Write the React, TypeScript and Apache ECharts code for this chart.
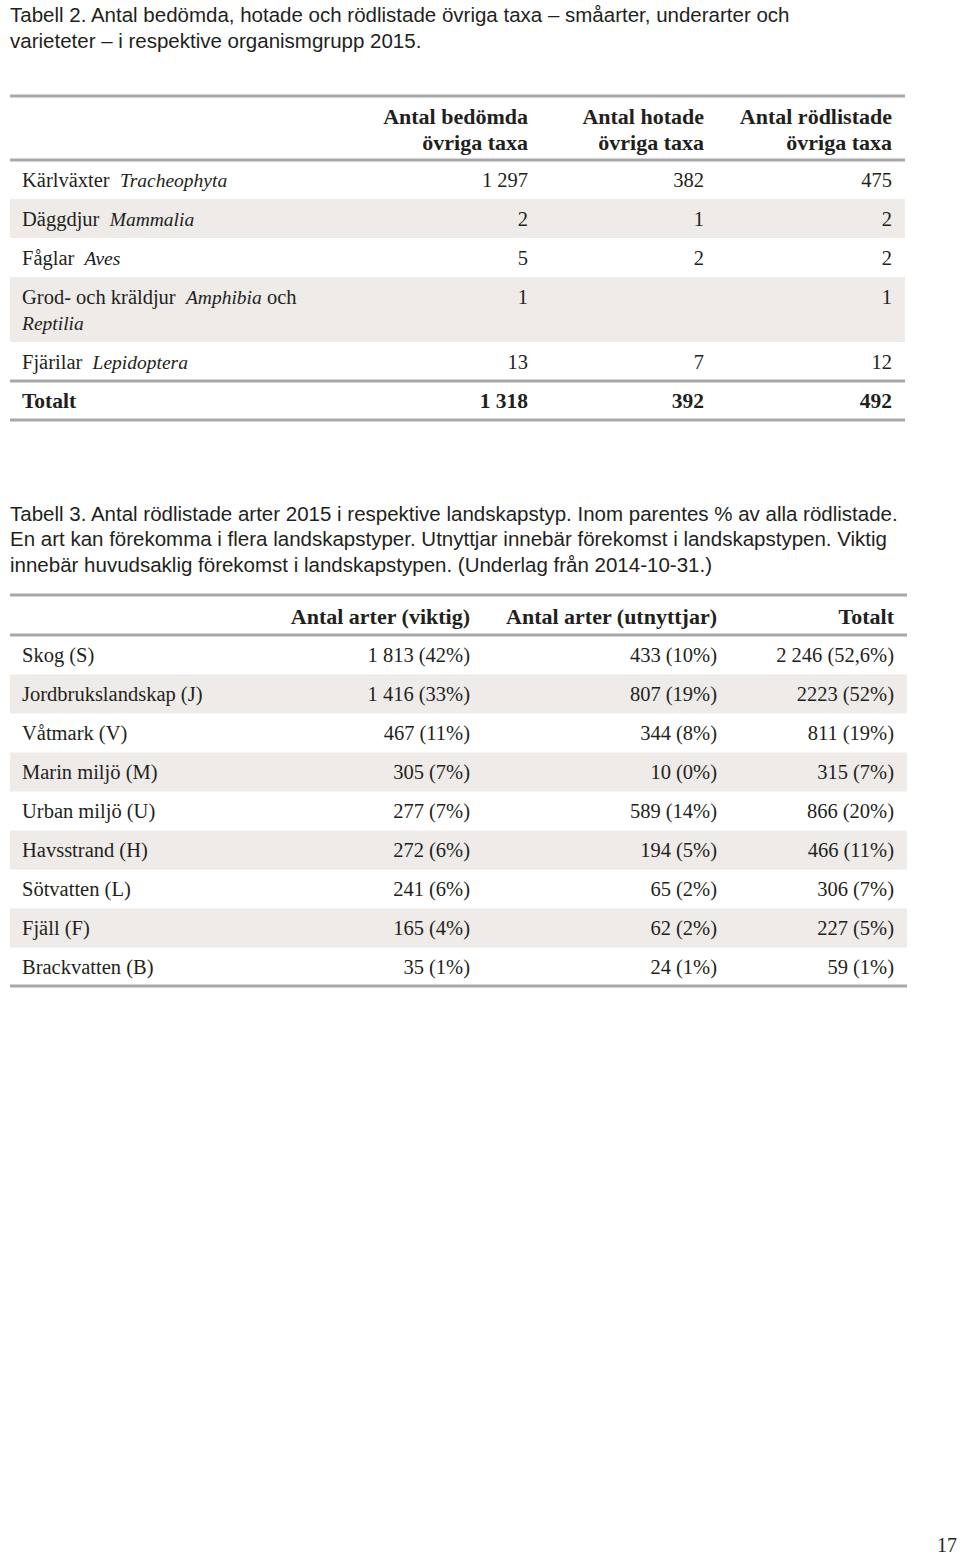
import React, { useEffect, useRef } from "react";
import * as echarts from "echarts";

// ---------- Data ----------
const title2Lines = [
  "Tabell 2. Antal bedömda, hotade och rödlistade övriga taxa – småarter, underarter och",
  "varieteter – i respektive organismgrupp 2015.",
];
const t2Headers = [
  ["Antal bedömda", "övriga taxa"],
  ["Antal hotade", "övriga taxa"],
  ["Antal rödlistade", "övriga taxa"],
];
const t2Groups = ["Kärlväxter", "Däggdjur", "Fåglar", "Grod- och kräldjur", "Fjärilar"];
const t2Latin = ["Tracheophyta", "Mammalia", "Aves", "Amphibia|Reptilia", "Lepidoptera"];
const t2Bedomda = ["1 297", "2", "5", "1", "13"];
const t2Hotade = ["382", "1", "2", "", "7"];
const t2Rodlistade = ["475", "2", "2", "1", "12"];
const t2TotalLabel = "Totalt";
const t2Totals = ["1 318", "392", "492"];

const title3Lines = [
  "Tabell 3. Antal rödlistade arter 2015 i respektive landskapstyp. Inom parentes % av alla rödlistade.",
  "En art kan förekomma i flera landskapstyper. Utnyttjar innebär förekomst i landskapstypen. Viktig",
  "innebär huvudsaklig förekomst i landskapstypen. (Underlag från 2014-10-31.)",
];
const t3Headers = ["Antal arter (viktig)", "Antal arter (utnyttjar)", "Totalt"];
const t3Categories = [
  "Skog (S)",
  "Jordbrukslandskap (J)",
  "Våtmark (V)",
  "Marin miljö (M)",
  "Urban miljö (U)",
  "Havsstrand (H)",
  "Sötvatten (L)",
  "Fjäll (F)",
  "Brackvatten (B)",
];
const t3Viktig = ["1 813 (42%)", "1 416 (33%)", "467 (11%)", "305 (7%)", "277 (7%)", "272 (6%)", "241 (6%)", "165 (4%)", "35 (1%)"];
const t3Utnyttjar = ["433 (10%)", "807 (19%)", "344 (8%)", "10 (0%)", "589 (14%)", "194 (5%)", "65 (2%)", "62 (2%)", "24 (1%)"];
const t3Totalt = ["2 246 (52,6%)", "2223 (52%)", "811 (19%)", "315 (7%)", "866 (20%)", "466 (11%)", "306 (7%)", "227 (5%)", "59 (1%)"];
const pageNumber = "17";

// ---------- Styles ----------
const SERIF = "'Liberation Serif', 'DejaVu Serif', serif";
const SANS = "'Liberation Sans', Arial, sans-serif";
const TEXT = "#231f20";
const RULE = "#a8a8a8";
const SHADE = "#eeebe9";
const FS = 20.5;
const FS_IT = 19.5;
const FS_B = 21.5;
const FS_HEAD = 22;
const CAP_FS = 20.5;

function buildGraphics() {
  const g: any[] = [];
  const txt = (x: number, y: number, text: string, opts: any = {}) =>
    g.push({
      type: "text",
      x,
      y,
      silent: true,
      style: {
        text,
        fill: TEXT,
        font: `${opts.weight || "normal"} ${opts.size || (opts.weight === "bold" ? FS_B : FS)}px ${opts.family || SERIF}`,
        align: opts.align || "left",
        verticalAlign: "middle",
        ...(opts.rich ? { rich: opts.rich } : {}),
      },
    });
  const rule = (y: number, x1: number, x2: number) =>
    g.push({ type: "line", silent: true, shape: { x1, y1: y, x2, y2: y }, style: { stroke: RULE, lineWidth: 3 } });
  const shade = (y: number, h: number, x1: number, x2: number) =>
    g.push({ type: "rect", silent: true, shape: { x: x1, y, width: x2 - x1, height: h }, style: { fill: SHADE } });

  // ---- Title 2
  title2Lines.forEach((l, i) => txt(10, 14 + i * 26.5, l, { family: SANS, size: CAP_FS }));

  // ---- Table 2
  const L2 = 10, R2 = 905;
  const cols2 = [528, 704, 892];
  rule(96, L2, R2);
  t2Headers.forEach((h, c) => {
    txt(cols2[c], 116, h[0], { weight: "bold", align: "right", size: FS_HEAD });
    txt(cols2[c], 142, h[1], { weight: "bold", align: "right", size: FS_HEAD });
  });
  rule(160, L2, R2);
  const rich = {
    n: { font: `normal ${FS}px ${SERIF}`, fill: TEXT },
    i: { font: `italic ${FS_IT}px ${SERIF}`, fill: TEXT },
  };
  let top = 160;
  t2Groups.forEach((grp, r) => {
    const parts = t2Latin[r].split("|");
    const h = parts.length > 1 ? 65 : 39;
    if (r % 2 === 1) shade(top, h, L2, R2);
    if (parts.length > 1) {
      txt(22, top + 20, `{n|${grp}}  {i|${parts[0]}}{n| och}`, { rich });
      txt(22, top + 46, `{i|${parts[1]}}`, { rich });
    } else {
      txt(22, top + 20, `{n|${grp}}  {i|${parts[0]}}`, { rich });
    }
    const vals = [t2Bedomda[r], t2Hotade[r], t2Rodlistade[r]];
    vals.forEach((v, c) => v && txt(cols2[c], top + 20, v, { align: "right" }));
    top += h;
  });
  rule(381, L2, R2);
  txt(22, 401, t2TotalLabel, { weight: "bold" });
  t2Totals.forEach((v, c) => txt(cols2[c], 401, v, { weight: "bold", align: "right" }));
  rule(420, L2, R2);

  // ---- Title 3
  title3Lines.forEach((l, i) => txt(10, 513 + i * 25.5, l, { family: SANS, size: CAP_FS }));

  // ---- Table 3
  const L3 = 10, R3 = 907;
  const cols3 = [470, 717, 894];
  rule(595, L3, R3);
  t3Headers.forEach((h, c) => txt(cols3[c], 616, h, { weight: "bold", align: "right", size: FS_HEAD }));
  rule(635, L3, R3);
  t3Categories.forEach((cat, r) => {
    const y0 = 635 + r * 39;
    if (r % 2 === 1) shade(y0 + 0.5, 39, L3, R3);
    txt(22, y0 + 20, cat);
    txt(cols3[0], y0 + 20, t3Viktig[r], { align: "right" });
    txt(cols3[1], y0 + 20, t3Utnyttjar[r], { align: "right" });
    txt(cols3[2], y0 + 20, t3Totalt[r], { align: "right" });
  });
  rule(986, L3, R3);

  // ---- Page number
  txt(957, 1545, pageNumber, { align: "right", size: 20 });
  return g;
}

export default function App() {
  const ref = useRef<HTMLDivElement>(null);
  useEffect(() => {
    if (!ref.current) return;
    const chart = echarts.init(ref.current, undefined, { renderer: "svg" });
    chart.setOption({
      animation: false,
      backgroundColor: "#ffffff",
      graphic: { elements: buildGraphics() },
    });
    return () => chart.dispose();
  }, []);
  return (
    <div
      ref={ref}
      style={{ position: "absolute", left: 0, top: 0, width: 960, height: 1555, background: "#fff" }}
    />
  );
}
